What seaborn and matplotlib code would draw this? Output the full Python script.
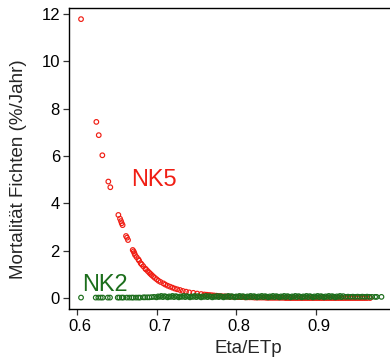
import matplotlib
matplotlib.use("Agg")
import matplotlib.pyplot as plt
import matplotlib.transforms as mtransforms
import seaborn as sns
import pandas as pd

# ---- data ----
nk5_x = [0.6054, 0.6246, 0.6276, 0.6321, 0.6396, 0.6421, 0.6522, 0.6543, 0.6555,
         0.6564, 0.6575, 0.6618, 0.6630, 0.6643, 0.6702, 0.6713, 0.6722, 0.6731,
         0.6750, 0.6772, 0.6782, 0.6802, 0.6815, 0.6835, 0.6860, 0.6869, 0.6890,
         0.6910, 0.6925, 0.6940, 0.6960, 0.6980, 0.7003, 0.7025, 0.7050, 0.7086,
         0.7110, 0.7140, 0.7170, 0.7200, 0.7230, 0.7260, 0.7295, 0.7330, 0.7370,
         0.7410, 0.7462, 0.7510, 0.7560, 0.7600, 0.7630, 0.7660, 0.7690, 0.7720,
         0.7750, 0.7780, 0.7810, 0.7840, 0.7870, 0.7900, 0.7930, 0.7960, 0.7990,
         0.8020, 0.8050, 0.8080, 0.8110, 0.8140, 0.8170, 0.8200, 0.8230, 0.8260,
         0.8290, 0.8320, 0.8350, 0.8380, 0.8410, 0.8440, 0.8470, 0.8500, 0.8530,
         0.8560, 0.8590, 0.8620, 0.8650, 0.8680, 0.8710, 0.8740, 0.8770, 0.8800,
         0.8830, 0.8860, 0.8890, 0.8920, 0.8950, 0.8980, 0.9010, 0.9040, 0.9070,
         0.9100, 0.9130, 0.9160, 0.9190, 0.9220, 0.9250, 0.9280, 0.9310, 0.9340,
         0.9370, 0.9400, 0.9430, 0.9460, 0.9490, 0.9520, 0.9550, 0.9580, 0.9610,
         0.9640, 0.9677]
nk5_y = [11.78, 7.44, 6.88, 6.03, 4.92, 4.68, 3.51, 3.35, 3.25,
         3.16, 3.08, 2.62, 2.55, 2.45, 2.03, 1.97, 1.90, 1.82,
         1.73, 1.64, 1.58, 1.47, 1.42, 1.34, 1.24, 1.21, 1.14,
         1.07, 1.02, 0.97, 0.91, 0.85, 0.79, 0.73, 0.68, 0.62,
         0.57, 0.52, 0.48, 0.44, 0.40, 0.37, 0.34, 0.30, 0.27,
         0.24, 0.22, 0.19, 0.17, 0.15, 0.14, 0.13, 0.12, 0.11,
         0.10, 0.09, 0.08, 0.07, 0.07, 0.06, 0.06, 0.05, 0.05,
         0.04, 0.04, 0.04, 0.03, 0.03, 0.03, 0.03, 0.02, 0.02,
         0.02, 0.02, 0.02, 0.01, 0.01, 0.01, 0.01, 0.01, 0.01,
         0.01, 0.01, 0.00, 0.00, 0.00, 0.00, 0.00, 0.00, 0.00,
         0.00, 0.00, 0.00, 0.00, 0.00, 0.00, 0.00, 0.00, 0.00,
         0.00, 0.00, 0.00, 0.00, 0.00, 0.00, 0.00, 0.00, 0.00,
         0.00, 0.00, 0.00, 0.00, 0.00, 0.00, 0.00, 0.00, 0.00,
         0.00, 0.00]

nk2_x = [0.6054, 0.6238, 0.6271, 0.6301, 0.6326, 0.6389, 0.6417, 0.6514, 0.6534,
         0.6564, 0.6584, 0.6627, 0.6659, 0.6689, 0.6710, 0.6743, 0.6772, 0.6794,
         0.6835, 0.6856, 0.6885, 0.6910, 0.6940, 0.6970,
         0.700, 0.702, 0.704, 0.706, 0.708, 0.710, 0.712, 0.714, 0.716, 0.718,
         0.720, 0.722, 0.724, 0.726, 0.728, 0.730, 0.732, 0.734, 0.736, 0.738,
         0.740, 0.742, 0.744, 0.746, 0.748, 0.750, 0.752, 0.754, 0.756, 0.758,
         0.760, 0.762, 0.764, 0.766, 0.768, 0.770, 0.772, 0.774, 0.776, 0.778,
         0.780, 0.782, 0.784, 0.786, 0.788, 0.790, 0.792, 0.794, 0.796, 0.798,
         0.800, 0.802, 0.804, 0.806, 0.808, 0.810, 0.812, 0.814, 0.816, 0.818,
         0.820, 0.822, 0.824, 0.826, 0.828, 0.830, 0.832, 0.834, 0.836, 0.838,
         0.840, 0.842, 0.844, 0.846, 0.848, 0.850, 0.852, 0.854, 0.856, 0.858,
         0.860, 0.862, 0.864, 0.866, 0.868, 0.870, 0.872, 0.874, 0.876, 0.878,
         0.880, 0.882, 0.884, 0.886, 0.888, 0.890, 0.892, 0.894, 0.896, 0.898,
         0.900, 0.902, 0.904, 0.906, 0.908, 0.910, 0.912, 0.914, 0.916, 0.918,
         0.920, 0.922, 0.924, 0.926, 0.928, 0.930, 0.932, 0.934,
         0.937, 0.940, 0.943, 0.946, 0.949, 0.952, 0.955, 0.958, 0.961, 0.964,
         0.967, 0.970, 0.974, 0.976, 0.982]
nk2_y = [0.02, 0.02, 0.02, 0.02, 0.02, 0.02, 0.02, 0.02, 0.02,
         0.02, 0.02, 0.02, 0.02, 0.02, 0.02, 0.02, 0.02, 0.02,
         0.03, 0.03, 0.03, 0.03, 0.04, 0.05,
         0.03, 0.07, 0.05, 0.09, 0.04, 0.08, 0.06, 0.03, 0.07, 0.05,
         0.09, 0.04, 0.08, 0.06, 0.03, 0.07, 0.05, 0.09, 0.04, 0.08,
         0.06, 0.03, 0.07, 0.05, 0.09, 0.04, 0.08, 0.06, 0.03, 0.07,
         0.05, 0.09, 0.04, 0.08, 0.06, 0.03, 0.07, 0.05, 0.09, 0.04,
         0.08, 0.06, 0.03, 0.07, 0.05, 0.09, 0.04, 0.08, 0.06, 0.03,
         0.07, 0.05, 0.09, 0.04, 0.08, 0.06, 0.03, 0.07, 0.05, 0.09,
         0.04, 0.08, 0.06, 0.03, 0.07, 0.05, 0.09, 0.04, 0.08, 0.06,
         0.03, 0.07, 0.05, 0.09, 0.04, 0.08, 0.06, 0.03, 0.07, 0.05,
         0.09, 0.04, 0.08, 0.06, 0.03, 0.07, 0.05, 0.09, 0.04, 0.08,
         0.06, 0.03, 0.07, 0.05, 0.09, 0.04, 0.08, 0.06, 0.03, 0.07,
         0.05, 0.09, 0.04, 0.08, 0.06, 0.03, 0.07, 0.05, 0.09, 0.04,
         0.08, 0.06, 0.03, 0.07, 0.05, 0.09, 0.04, 0.08,
         0.05, 0.06, 0.05, 0.06, 0.05, 0.06, 0.05, 0.06, 0.05, 0.06,
         0.05, 0.05, 0.05, 0.05, 0.05]

x_ticks = [0.6, 0.7, 0.8, 0.9]
y_ticks = [0, 2, 4, 6, 8, 10, 12]
x_label = "Eta/ETp"
y_label = "Mortalität Fichten (%/Jahr)"
series_labels = ["NK5", "NK2"]

RED = "#F01E14"
GREEN = "#1C6E1C"

sns.set_theme(style="white")
plt.rcParams["font.family"] = ["Liberation Sans", "DejaVu Sans"]

fig = plt.figure(figsize=(3.9, 3.62), dpi=100)
ax = fig.add_axes([0.1769, 0.1472, 0.918, 0.8307])

df5 = pd.DataFrame({"x": nk5_x, "y": nk5_y})
df2 = pd.DataFrame({"x": nk2_x, "y": nk2_y})

sns.scatterplot(data=df5, x="x", y="y", ax=ax, marker="o", s=11,
                facecolors="none", edgecolor=RED, linewidth=0.85, zorder=3)
sns.scatterplot(data=df2, x="x", y="y", ax=ax, marker="o", s=11,
                facecolors="none", edgecolor=GREEN, linewidth=0.85, zorder=4)

ax.set_xlim(0.5903, 1.0391)
ax.set_ylim(-0.45, 12.25)
ax.set_xticks(x_ticks)
ax.set_xticklabels([f"{v:.1f}" for v in x_ticks])
ax.set_yticks(y_ticks)
ax.set_yticklabels([str(v) for v in y_ticks])

for side in ["left", "bottom", "top", "right"]:
    ax.spines[side].set_visible(True)
    ax.spines[side].set_color("black")
    ax.spines[side].set_linewidth(1.0)

ax.tick_params(axis="both", which="major", direction="out", length=4.5,
               width=0.9, color="#333333", labelsize=12, labelcolor="black",
               bottom=True, left=True, top=False, right=False)
ax.tick_params(axis="x", pad=3)
ax.tick_params(axis="y", pad=2)

# shift x tick labels slightly to the right as in the reference
offset = mtransforms.ScaledTranslation(3 / 100, 0, fig.dpi_scale_trans)
for lab in ax.get_xticklabels():
    lab.set_transform(lab.get_transform() + offset)

ax.set_xlabel(x_label, fontsize=13.5)
ax.set_ylabel(y_label, fontsize=13.5)
ax.xaxis.set_label_coords(0.5, -0.105)
ax.yaxis.set_label_coords(-0.117, 0.465)

ax.text(0.668, 4.73, series_labels[0], color=RED, fontsize=17,
        ha="left", va="baseline")
ax.text(0.6066, 0.28, series_labels[1], color=GREEN, fontsize=17,
        ha="left", va="baseline")

ax.grid(False)
fig.savefig("out.png", dpi=100)
